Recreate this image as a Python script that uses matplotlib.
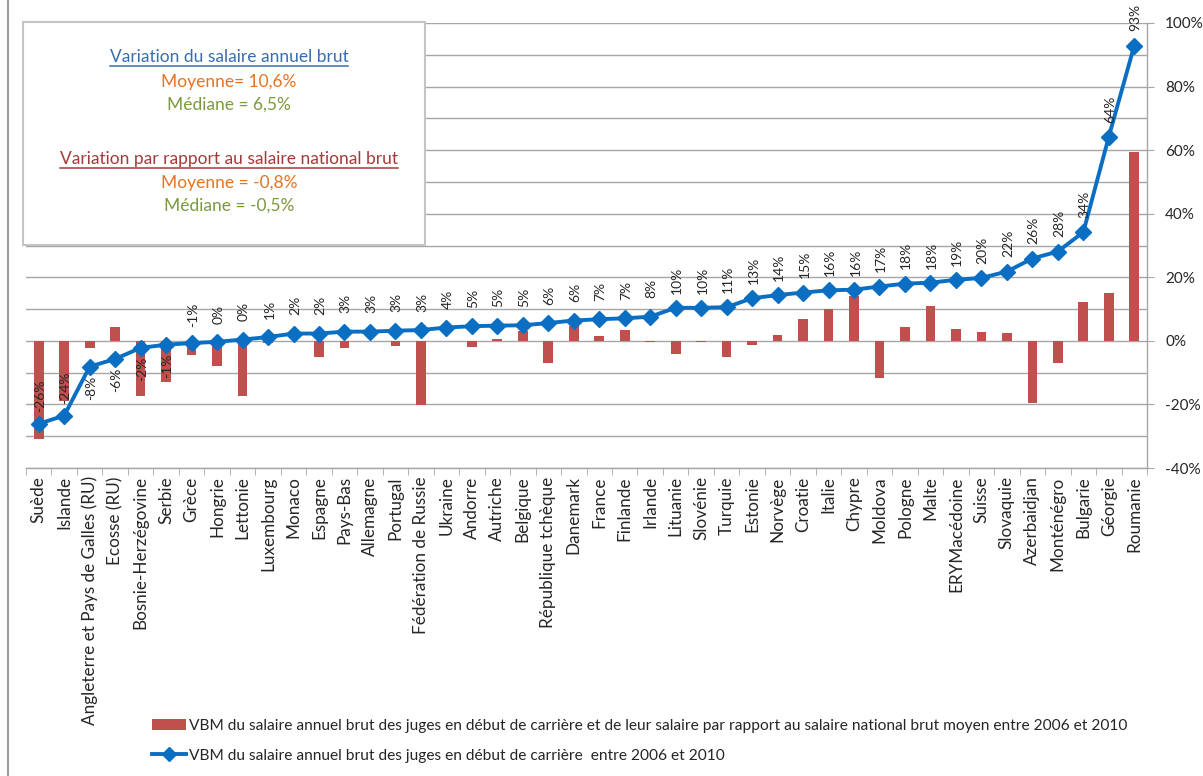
import matplotlib
matplotlib.use("Agg")
import matplotlib.pyplot as plt
from matplotlib.lines import Line2D
from matplotlib.patches import Patch, Rectangle
import numpy as np

plt.rcParams["font.family"] = ["Lato", "DejaVu Sans"]

# DATA
COUNTRIES = [
    "Suède", "Islande", "Angleterre et Pays de Galles (RU)", "Ecosse (RU)",
    "Bosnie-Herzégovine", "Serbie", "Grèce", "Hongrie", "Lettonie", "Luxembourg",
    "Monaco", "Espagne", "Pays-Bas", "Allemagne", "Portugal", "Fédération de Russie",
    "Ukraine", "Andorre", "Autriche", "Belgique", "République tchèque", "Danemark",
    "France", "Finlande", "Irlande", "Lituanie", "Slovénie", "Turquie", "Estonie",
    "Norvège", "Croatie", "Italie", "Chypre", "Moldova", "Pologne", "Malte",
    "ERYMacédoine", "Suisse", "Slovaquie", "Azerbaidjan", "Monténégro", "Bulgarie",
    "Géorgie", "Roumanie",
]
# variation vs national gross salary (%)
BAR_VALUES = [
    -30.8, -19.0, -2.3, 4.3, -17.5, -13.0, -4.5, -7.8, -17.2, -0.8,
    -0.1, -5.2, -2.3, -0.2, -1.6, -20.3, -0.2, -1.8, 0.6, 3.0,
    -7.1, 4.7, 1.5, 3.3, -0.5, -4.2, -0.4, -5.2, -1.3, 2.0,
    6.8, 9.9, 14.2, -11.7, 4.3, 11.1, 3.8, 2.7, 2.5, -19.6,
    -7.1, 12.2, 14.9, 59.3,
]
# variation of judges' gross annual salary (%)
LINE_VALUES = [
    -26.1, -23.5, -8.1, -5.7, -2.2, -1.2, -0.7, -0.3, 0.4, 1.2,
    2.3, 2.3, 2.9, 2.9, 3.2, 3.4, 4.2, 4.6, 4.8, 4.9,
    5.6, 6.4, 6.8, 7.1, 7.6, 10.4, 10.4, 10.6, 13.4, 14.4,
    15.2, 15.9, 16.1, 17.1, 18.0, 18.3, 19.2, 19.8, 21.8, 25.9,
    28.1, 34.2, 64.2, 92.9,
]
Y_TICKS = [-40, -20, 0, 20, 40, 60, 80, 100]

BAR_LABEL = ("VBM du salaire annuel brut des juges en début de carrière et de leur salaire "
             "par rapport au salaire national brut moyen entre 2006 et 2010")
LINE_LABEL = "VBM du salaire annuel brut des juges en début de carrière  entre 2006 et 2010"

BOX_LINES = [
    ("Variation du salaire annuel brut", "#3A6DB0", True),
    ("Moyenne= 10,6%", "#E8731E", False),
    ("Médiane = 6,5%", "#7A9A3C", False),
    ("Variation par rapport au salaire national brut", "#A23B38", True),
    ("Moyenne = -0,8%", "#E8731E", False),
    ("Médiane = -0,5%", "#7A9A3C", False),
]

# labels drawn below the point instead of above
LABEL_BELOW = {2, 3, 4, 5}

BAR_COLOR = "#C0504D"
LINE_COLOR = "#0A6FC2"
GRID_COLOR = "#A6A6A6"
TEXT_COLOR = "#262626"

W, H = 1203, 776
fig = plt.figure(figsize=(W / 100, H / 100), dpi=100)


def fx(px):
    return px / W


def fy(py):
    return 1 - py / H


ax = fig.add_axes([fx(26), fy(468), fx(1147) - fx(26), fy(23) - fy(468)])

x = np.arange(len(COUNTRIES))
ax.bar(x, BAR_VALUES, width=0.38, color=BAR_COLOR, zorder=2)
ax.plot(x, LINE_VALUES, color=LINE_COLOR, linewidth=2.8, marker="D", markersize=8,
        zorder=3)

for i, v in enumerate(LINE_VALUES):
    off = -15 if i in LABEL_BELOW else 20
    ax.annotate(f"{int(round(v))}%", (x[i], v), xytext=(1, off), textcoords="offset points",
                rotation=90, ha="center", va="center", fontsize=10, color=TEXT_COLOR,
                zorder=4)

ax.set_xlim(-0.5, len(COUNTRIES) - 0.5)
ax.set_ylim(-40, 100)
ax.yaxis.tick_right()
ax.set_yticks(Y_TICKS)
ax.set_yticklabels([f"{t}%" for t in Y_TICKS], fontsize=11, color=TEXT_COLOR)
ax.set_yticks(np.arange(-30, 100, 20), minor=True)
ax.yaxis.grid(True, which="both", color=GRID_COLOR, linewidth=1.0, zorder=0)
ax.set_axisbelow(True)
ax.tick_params(axis="y", which="major", length=5, color=GRID_COLOR, pad=8, right=True)
ax.tick_params(axis="y", which="minor", length=0)

ax.set_xticks(x)
ax.set_xticklabels(COUNTRIES, rotation=90, fontsize=12.3, color=TEXT_COLOR)
ax.tick_params(axis="x", length=0, pad=6)
ax.set_xticks(np.arange(-0.5, len(COUNTRIES), 1), minor=True)
ax.tick_params(axis="x", which="minor", length=5, color=GRID_COLOR, bottom=True)

for side in ["top", "left"]:
    ax.spines[side].set_visible(False)
for side in ["right", "bottom"]:
    ax.spines[side].set_color(GRID_COLOR)
    ax.spines[side].set_linewidth(1.0)

# text box with the summary statistics
fig.patches.append(Rectangle((fx(23), fy(245)), fx(425) - fx(23), fy(22) - fy(245),
                             transform=fig.transFigure, facecolor="white",
                             edgecolor="#C4C4C4", linewidth=1.5, zorder=5))
box_y = [57, 82, 105, 159, 183, 206]
texts = []
for (txt, col, underline), py in zip(BOX_LINES, box_y):
    t = fig.text(fx(229), fy(py), txt, color=col, fontsize=12.5, ha="center", va="center",
                 zorder=6)
    texts.append((t, col, underline))

fig.canvas.draw()
renderer = fig.canvas.get_renderer()
for t, col, underline in texts:
    if underline:
        bb = t.get_window_extent(renderer)
        fig.add_artist(Line2D([bb.x0 / W, bb.x1 / W], [(bb.y0 - 1) / H] * 2, color=col,
                              linewidth=1.1, transform=fig.transFigure, zorder=6))

# left frame line
fig.add_artist(Line2D([fx(7.5), fx(7.5)], [0, 1], color="#9E9E9E", linewidth=1.5,
                      transform=fig.transFigure))

handles = [
    Patch(facecolor=BAR_COLOR, edgecolor="none"),
    Line2D([0], [0], color=LINE_COLOR, linewidth=2.8, marker="D", markersize=7),
]
fig.legend(handles, [BAR_LABEL, LINE_LABEL], loc="upper left",
           bbox_to_anchor=(fx(138), fy(705)), frameon=False, fontsize=11.2,
           handlelength=2.2, handletextpad=0.2, labelspacing=1.0, labelcolor=TEXT_COLOR)

fig.savefig("out.png", dpi=100)
